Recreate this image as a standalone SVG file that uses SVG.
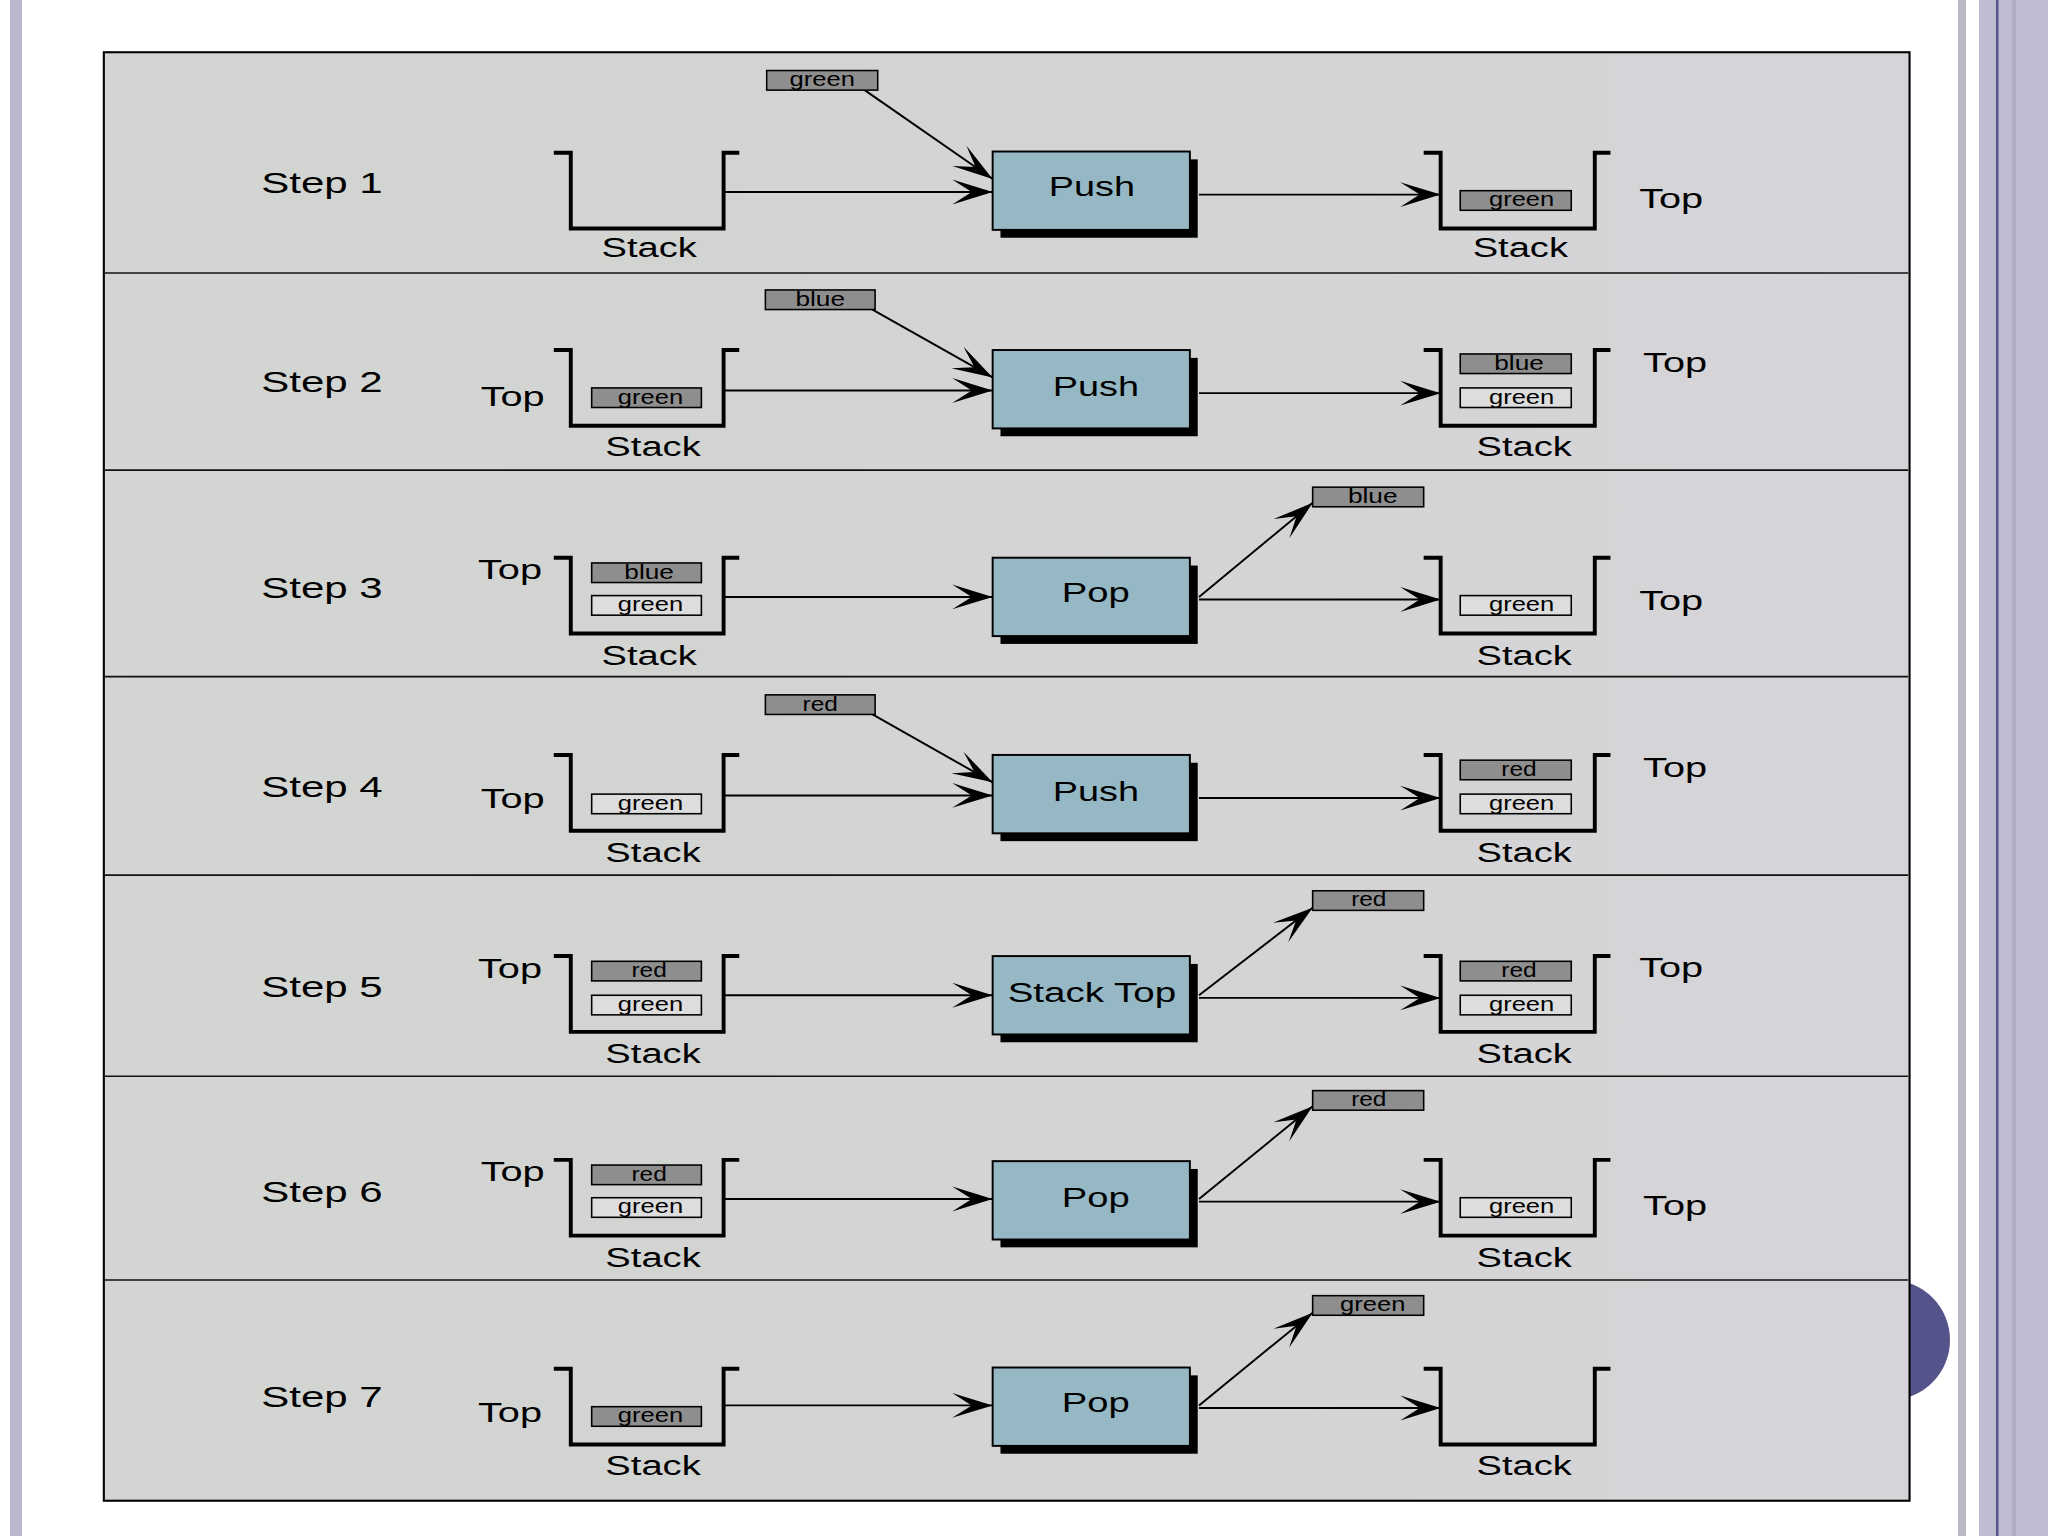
<svg xmlns="http://www.w3.org/2000/svg" width="2048" height="1536" viewBox="0 0 2048 1536">
<defs>
<linearGradient id="bg" x1="0" y1="0" x2="1" y2="0">
<stop offset="0" stop-color="#d2d5d1"/>
<stop offset="0.5" stop-color="#d3d4d3"/>
<stop offset="1" stop-color="#d6d4d9"/>
</linearGradient>
<marker id="ah" markerUnits="userSpaceOnUse" viewBox="-32 -10 33 20" markerWidth="33" markerHeight="20" refX="0" refY="0" orient="auto" overflow="visible">
<path d="M0,0 L-31,-9.5 L-16,0 L-31,9.5 Z" fill="#000"/>
</marker>
<style>
.panel{fill:url(#bg);stroke:#000;stroke-width:1.6}
.div{stroke:#111;stroke-width:1.3}
.stk{fill:none;stroke:#000;stroke-width:3;stroke-linejoin:miter}
.con{stroke:#000;stroke-width:1.5;fill:none;marker-end:url(#ah)}
.op{fill:#95b8c4;stroke:#000;stroke-width:1.5}
.sh{fill:#000}
.dk{fill:#8e8e8e;stroke:#000;stroke-width:1.2}
.lt{fill:#dddddd;stroke:#000;stroke-width:1.2}
text{font-family:"Liberation Sans",Arial,Helvetica,sans-serif;fill:#000}
.step{font-size:22.5px}
.lbl{font-size:20.5px}
.mid{text-anchor:middle}
.sm{font-size:15px;text-anchor:middle}
</style>
</defs>
<rect x="0" y="0" width="2048" height="1536" fill="#ffffff"/>
<rect x="10" y="0" width="12" height="1536" fill="#b9b8cc"/>
<rect x="1958" y="0" width="8" height="1536" fill="#b9b9c6"/>
<rect x="1979" y="0" width="69" height="1536" fill="#bebdd1"/>
<rect x="1996" y="0" width="2.5" height="1536" fill="#57568c"/>
<rect x="2012" y="0" width="4" height="1536" fill="#aeadc3"/>
<circle cx="1890" cy="1340" r="60" fill="#55548a"/>
<g transform="scale(1.306122)">
<g id="frame">
<rect class="panel" x="79.5" y="40" width="1382.5" height="1109"/>
<line class="div" x1="80" y1="209" x2="1461" y2="209"/>
<line class="div" x1="80" y1="360" x2="1461" y2="360"/>
<line class="div" x1="80" y1="518" x2="1461" y2="518"/>
<line class="div" x1="80" y1="670" x2="1461" y2="670"/>
<line class="div" x1="80" y1="824" x2="1461" y2="824"/>
<line class="div" x1="80" y1="980" x2="1461" y2="980"/>
</g>
<g id="connectors">
<line class="con" x1="662" y1="69" x2="760" y2="137"/>
<line class="con" x1="554" y1="147" x2="760" y2="147"/>
<line class="con" x1="918" y1="149" x2="1103" y2="149"/>
<line class="con" x1="668" y1="237" x2="760" y2="289"/>
<line class="con" x1="554" y1="299" x2="760" y2="299"/>
<line class="con" x1="918" y1="301" x2="1103" y2="301"/>
<line class="con" x1="554" y1="457" x2="760" y2="457"/>
<line class="con" x1="918" y1="459" x2="1103" y2="459"/>
<line class="con" x1="918" y1="457" x2="1005" y2="385"/>
<line class="con" x1="668" y1="547" x2="760" y2="599"/>
<line class="con" x1="554" y1="609" x2="760" y2="609"/>
<line class="con" x1="918" y1="611" x2="1103" y2="611"/>
<line class="con" x1="554" y1="762" x2="760" y2="762"/>
<line class="con" x1="918" y1="764" x2="1103" y2="764"/>
<line class="con" x1="918" y1="762" x2="1005" y2="695"/>
<line class="con" x1="554" y1="918" x2="760" y2="918"/>
<line class="con" x1="918" y1="920" x2="1103" y2="920"/>
<line class="con" x1="918" y1="918" x2="1005" y2="847"/>
<line class="con" x1="554" y1="1076" x2="760" y2="1076"/>
<line class="con" x1="918" y1="1078" x2="1103" y2="1078"/>
<line class="con" x1="918" y1="1076" x2="1005" y2="1005"/>
</g>
<g id="step1">
<text class="step" x="200" y="148" textLength="93" lengthAdjust="spacingAndGlyphs">Step 1</text>
<path class="stk" d="M424,117 L437,117 L437,175 L554,175 L554,117 L566,117"/>
<text class="lbl mid" x="497" y="197" textLength="73" lengthAdjust="spacingAndGlyphs">Stack</text>
<rect class="dk" x="587" y="54" width="85" height="15"/>
<text class="sm" x="629.5" y="66" textLength="50" lengthAdjust="spacingAndGlyphs">green</text>
<rect class="sh" x="766" y="122" width="151" height="60"/>
<rect class="op" x="760" y="116" width="151" height="60"/>
<text class="lbl mid" x="836" y="150" textLength="66" lengthAdjust="spacingAndGlyphs">Push</text>
<path class="stk" d="M1090,117 L1103,117 L1103,175 L1221,175 L1221,117 L1233,117"/>
<rect class="dk" x="1118" y="146" width="85" height="15"/>
<text class="sm" x="1165" y="158" textLength="50" lengthAdjust="spacingAndGlyphs">green</text>
<text class="lbl" x="1255" y="159" textLength="49" lengthAdjust="spacingAndGlyphs">Top</text>
<text class="lbl mid" x="1164" y="197" textLength="73" lengthAdjust="spacingAndGlyphs">Stack</text>
</g>
<g id="step2">
<text class="step" x="200" y="300" textLength="93" lengthAdjust="spacingAndGlyphs">Step 2</text>
<text class="lbl" x="368" y="311" textLength="49" lengthAdjust="spacingAndGlyphs">Top</text>
<path class="stk" d="M424,268 L437,268 L437,326 L554,326 L554,268 L566,268"/>
<rect class="dk" x="453" y="297" width="84" height="15"/>
<text class="sm" x="498" y="309" textLength="50" lengthAdjust="spacingAndGlyphs">green</text>
<text class="lbl mid" x="500" y="349" textLength="73" lengthAdjust="spacingAndGlyphs">Stack</text>
<rect class="dk" x="586" y="222" width="84" height="15"/>
<text class="sm" x="628" y="234" textLength="38" lengthAdjust="spacingAndGlyphs">blue</text>
<rect class="sh" x="766" y="274" width="151" height="60"/>
<rect class="op" x="760" y="268" width="151" height="60"/>
<text class="lbl mid" x="839" y="303" textLength="66" lengthAdjust="spacingAndGlyphs">Push</text>
<path class="stk" d="M1090,268 L1103,268 L1103,326 L1221,326 L1221,268 L1233,268"/>
<rect class="dk" x="1118" y="271" width="85" height="15"/>
<text class="sm" x="1163" y="283" textLength="38" lengthAdjust="spacingAndGlyphs">blue</text>
<rect class="lt" x="1118" y="297" width="85" height="15"/>
<text class="sm" x="1165" y="309" textLength="50" lengthAdjust="spacingAndGlyphs">green</text>
<text class="lbl" x="1258" y="285" textLength="49" lengthAdjust="spacingAndGlyphs">Top</text>
<text class="lbl mid" x="1167" y="349" textLength="73" lengthAdjust="spacingAndGlyphs">Stack</text>
</g>
<g id="step3">
<text class="step" x="200" y="458" textLength="93" lengthAdjust="spacingAndGlyphs">Step 3</text>
<text class="lbl" x="366" y="443" textLength="49" lengthAdjust="spacingAndGlyphs">Top</text>
<path class="stk" d="M424,427 L437,427 L437,485 L554,485 L554,427 L566,427"/>
<rect class="dk" x="453" y="431" width="84" height="15"/>
<text class="sm" x="497" y="443" textLength="38" lengthAdjust="spacingAndGlyphs">blue</text>
<rect class="lt" x="453" y="456" width="84" height="15"/>
<text class="sm" x="498" y="468" textLength="50" lengthAdjust="spacingAndGlyphs">green</text>
<text class="lbl mid" x="497" y="509" textLength="73" lengthAdjust="spacingAndGlyphs">Stack</text>
<rect class="sh" x="766" y="433" width="151" height="60"/>
<rect class="op" x="760" y="427" width="151" height="60"/>
<text class="lbl mid" x="839" y="461" textLength="52" lengthAdjust="spacingAndGlyphs">Pop</text>
<rect class="dk" x="1005" y="373" width="85" height="15"/>
<text class="sm" x="1051" y="385" textLength="38" lengthAdjust="spacingAndGlyphs">blue</text>
<path class="stk" d="M1090,427 L1103,427 L1103,485 L1221,485 L1221,427 L1233,427"/>
<rect class="lt" x="1118" y="456" width="85" height="15"/>
<text class="sm" x="1165" y="468" textLength="50" lengthAdjust="spacingAndGlyphs">green</text>
<text class="lbl" x="1255" y="467" textLength="49" lengthAdjust="spacingAndGlyphs">Top</text>
<text class="lbl mid" x="1167" y="509" textLength="73" lengthAdjust="spacingAndGlyphs">Stack</text>
</g>
<g id="step4">
<text class="step" x="200" y="610" textLength="93" lengthAdjust="spacingAndGlyphs">Step 4</text>
<text class="lbl" x="368" y="619" textLength="49" lengthAdjust="spacingAndGlyphs">Top</text>
<path class="stk" d="M424,578 L437,578 L437,636 L554,636 L554,578 L566,578"/>
<rect class="lt" x="453" y="608" width="84" height="15"/>
<text class="sm" x="498" y="620" textLength="50" lengthAdjust="spacingAndGlyphs">green</text>
<text class="lbl mid" x="500" y="660" textLength="73" lengthAdjust="spacingAndGlyphs">Stack</text>
<rect class="dk" x="586" y="532" width="84" height="15"/>
<text class="sm" x="628" y="544" textLength="27" lengthAdjust="spacingAndGlyphs">red</text>
<rect class="sh" x="766" y="584" width="151" height="60"/>
<rect class="op" x="760" y="578" width="151" height="60"/>
<text class="lbl mid" x="839" y="613" textLength="66" lengthAdjust="spacingAndGlyphs">Push</text>
<path class="stk" d="M1090,578 L1103,578 L1103,636 L1221,636 L1221,578 L1233,578"/>
<rect class="dk" x="1118" y="582" width="85" height="15"/>
<text class="sm" x="1163" y="594" textLength="27" lengthAdjust="spacingAndGlyphs">red</text>
<rect class="lt" x="1118" y="608" width="85" height="15"/>
<text class="sm" x="1165" y="620" textLength="50" lengthAdjust="spacingAndGlyphs">green</text>
<text class="lbl" x="1258" y="595" textLength="49" lengthAdjust="spacingAndGlyphs">Top</text>
<text class="lbl mid" x="1167" y="660" textLength="73" lengthAdjust="spacingAndGlyphs">Stack</text>
</g>
<g id="step5">
<text class="step" x="200" y="763" textLength="93" lengthAdjust="spacingAndGlyphs">Step 5</text>
<text class="lbl" x="366" y="749" textLength="49" lengthAdjust="spacingAndGlyphs">Top</text>
<path class="stk" d="M424,732 L437,732 L437,790 L554,790 L554,732 L566,732"/>
<rect class="dk" x="453" y="736" width="84" height="15"/>
<text class="sm" x="497" y="748" textLength="27" lengthAdjust="spacingAndGlyphs">red</text>
<rect class="lt" x="453" y="762" width="84" height="15"/>
<text class="sm" x="498" y="774" textLength="50" lengthAdjust="spacingAndGlyphs">green</text>
<text class="lbl mid" x="500" y="814" textLength="73" lengthAdjust="spacingAndGlyphs">Stack</text>
<rect class="sh" x="766" y="738" width="151" height="60"/>
<rect class="op" x="760" y="732" width="151" height="60"/>
<text class="lbl mid" x="836" y="767" textLength="129" lengthAdjust="spacingAndGlyphs">Stack Top</text>
<rect class="dk" x="1005" y="682" width="85" height="15"/>
<text class="sm" x="1048" y="694" textLength="27" lengthAdjust="spacingAndGlyphs">red</text>
<path class="stk" d="M1090,732 L1103,732 L1103,790 L1221,790 L1221,732 L1233,732"/>
<rect class="dk" x="1118" y="736" width="85" height="15"/>
<text class="sm" x="1163" y="748" textLength="27" lengthAdjust="spacingAndGlyphs">red</text>
<rect class="lt" x="1118" y="762" width="85" height="15"/>
<text class="sm" x="1165" y="774" textLength="50" lengthAdjust="spacingAndGlyphs">green</text>
<text class="lbl" x="1255" y="748" textLength="49" lengthAdjust="spacingAndGlyphs">Top</text>
<text class="lbl mid" x="1167" y="814" textLength="73" lengthAdjust="spacingAndGlyphs">Stack</text>
</g>
<g id="step6">
<text class="step" x="200" y="920" textLength="93" lengthAdjust="spacingAndGlyphs">Step 6</text>
<text class="lbl" x="368" y="904" textLength="49" lengthAdjust="spacingAndGlyphs">Top</text>
<path class="stk" d="M424,888 L437,888 L437,946 L554,946 L554,888 L566,888"/>
<rect class="dk" x="453" y="892" width="84" height="15"/>
<text class="sm" x="497" y="904" textLength="27" lengthAdjust="spacingAndGlyphs">red</text>
<rect class="lt" x="453" y="917" width="84" height="15"/>
<text class="sm" x="498" y="929" textLength="50" lengthAdjust="spacingAndGlyphs">green</text>
<text class="lbl mid" x="500" y="970" textLength="73" lengthAdjust="spacingAndGlyphs">Stack</text>
<rect class="sh" x="766" y="895" width="151" height="60"/>
<rect class="op" x="760" y="889" width="151" height="60"/>
<text class="lbl mid" x="839" y="924" textLength="52" lengthAdjust="spacingAndGlyphs">Pop</text>
<rect class="dk" x="1005" y="835" width="85" height="15"/>
<text class="sm" x="1048" y="847" textLength="27" lengthAdjust="spacingAndGlyphs">red</text>
<path class="stk" d="M1090,888 L1103,888 L1103,946 L1221,946 L1221,888 L1233,888"/>
<rect class="lt" x="1118" y="917" width="85" height="15"/>
<text class="sm" x="1165" y="929" textLength="50" lengthAdjust="spacingAndGlyphs">green</text>
<text class="lbl" x="1258" y="930" textLength="49" lengthAdjust="spacingAndGlyphs">Top</text>
<text class="lbl mid" x="1167" y="970" textLength="73" lengthAdjust="spacingAndGlyphs">Stack</text>
</g>
<g id="step7">
<text class="step" x="200" y="1077" textLength="93" lengthAdjust="spacingAndGlyphs">Step 7</text>
<text class="lbl" x="366" y="1089" textLength="49" lengthAdjust="spacingAndGlyphs">Top</text>
<path class="stk" d="M424,1048 L437,1048 L437,1106 L554,1106 L554,1048 L566,1048"/>
<rect class="dk" x="453" y="1077" width="84" height="15"/>
<text class="sm" x="498" y="1089" textLength="50" lengthAdjust="spacingAndGlyphs">green</text>
<text class="lbl mid" x="500" y="1129" textLength="73" lengthAdjust="spacingAndGlyphs">Stack</text>
<rect class="sh" x="766" y="1053" width="151" height="60"/>
<rect class="op" x="760" y="1047" width="151" height="60"/>
<text class="lbl mid" x="839" y="1081" textLength="52" lengthAdjust="spacingAndGlyphs">Pop</text>
<rect class="dk" x="1005" y="992" width="85" height="15"/>
<text class="sm" x="1051" y="1004" textLength="50" lengthAdjust="spacingAndGlyphs">green</text>
<path class="stk" d="M1090,1048 L1103,1048 L1103,1106 L1221,1106 L1221,1048 L1233,1048"/>
<text class="lbl mid" x="1167" y="1129" textLength="73" lengthAdjust="spacingAndGlyphs">Stack</text>
</g>
</g>
</svg>
